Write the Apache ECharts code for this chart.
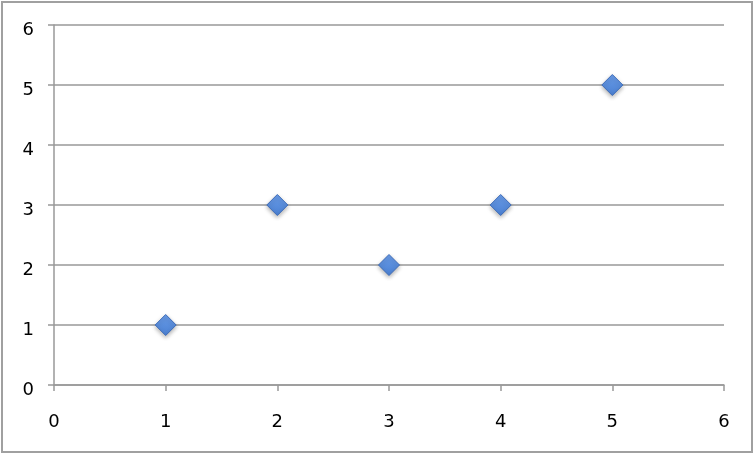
<!DOCTYPE html>
<html>
<head>
    <meta charset="utf-8">
    <title>Scatter</title>
    <script src="https://cdn.jsdelivr.net/npm/echarts@6/dist/echarts.min.js"></script>
    <style>
        body { margin: 0; background: #fff; }
        #frame { position: absolute; left: 1px; top: 1px; width: 752px; height: 452px;
                 box-sizing: border-box; border: 2px solid #a0a0a0; }
        #main { position: absolute; left: 0; top: 0; width: 754px; height: 454px; }
    </style>
</head>
<body>
<div id="frame"></div>
<div id="main"></div>
<script type="text/javascript">
    // data
    var xValues = [1, 2, 3, 4, 5];
    var yValues = [1, 3, 2, 3, 5];

    var points = xValues.map(function (x, i) {
        return [x, yValues[i]];
    });

    var myChart = echarts.init(document.getElementById('main'));

    var axisText = {
        color: '#000',
        fontSize: 18,
        fontFamily: 'DejaVu Sans'
    };

    myChart.setOption({
        animation: false,
        grid: {
            left: 54,
            right: 30,
            top: 25,
            bottom: 69
        },
        xAxis: {
            type: 'value',
            min: 0,
            max: 6,
            interval: 1,
            axisLine: { lineStyle: { color: '#999', width: 1.5 } },
            axisTick: { show: true, length: 6, lineStyle: { color: '#999', width: 1.5 } },
            axisLabel: Object.assign({ margin: 28 }, axisText),
            splitLine: { show: false }
        },
        yAxis: {
            type: 'value',
            min: 0,
            max: 6,
            interval: 1,
            axisLine: { show: true, lineStyle: { color: '#999', width: 1.5 } },
            axisTick: { show: true, length: 6, lineStyle: { color: '#999', width: 1.5 } },
            axisLabel: Object.assign({ margin: 20, verticalAlign: 'top', lineHeight: 10 }, axisText),
            splitLine: { show: true, lineStyle: { color: '#999', width: 1.5 } }
        },
        series: [
            {
                type: 'scatter',
                data: points,
                symbol: 'diamond',
                symbolSize: [21, 21],
                itemStyle: {
                    color: new echarts.graphic.LinearGradient(0, 0, 0, 1, [
                        { offset: 0, color: '#6a9ce8' },
                        { offset: 1, color: '#4a80d2' }
                    ]),
                    borderColor: '#3d6cb8',
                    borderWidth: 1,
                    opacity: 1,
                    shadowBlur: 4,
                    shadowColor: 'rgba(0,0,0,0.3)',
                    shadowOffsetY: 2
                }
            }
        ]
    });
</script>
</body>
</html>
